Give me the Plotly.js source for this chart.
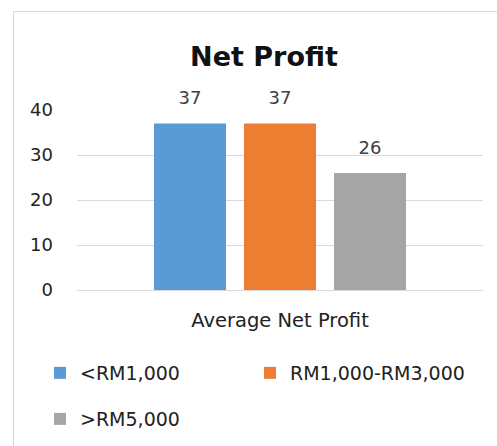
<!DOCTYPE html>
<html>
<head>
<meta charset="utf-8">
<script src="https://cdn.plot.ly/plotly-3.0.1.min.js"></script>
<style>
  html, body { margin: 0; padding: 0; background: #ffffff; }
  #frame { position: absolute; left: 13px; top: 11px; width: 600px; height: 600px; border: 1px solid #d9d9d9; box-sizing: border-box; }
  #chart { position: absolute; left: 0; top: 0; width: 497px; height: 446px; }
</style>
</head>
<body>
<div id="frame"></div>
<div id="chart"></div>
<script>
const categories = ["Average Net Profit"];
const seriesNames = ["<RM1,000", "RM1,000-RM3,000", ">RM5,000"];
const seriesValues = [[37], [37], [26]];
const seriesColors = ["#5b9bd5", "#ed7d31", "#a5a5a5"];
const yTicks = [0, 10, 20, 30, 40];
const legendOf = ["legend", "legend2", "legend3"];

const FONT = "DejaVu Sans, Liberation Sans, sans-serif";

const bars = seriesNames.map((name, i) => ({
  type: "bar",
  name: name,
  x: categories,
  y: seriesValues[i],
  marker: { color: seriesColors[i] },
  legend: legendOf[i],
  hoverinfo: "skip"
}));

const labels = seriesNames.map((name, i) => ({
  type: "scatter",
  mode: "markers+text",
  x: categories,
  y: seriesValues[i],
  text: seriesValues[i].map(v => String(v)),
  textposition: "top center",
  textfont: { family: FONT, size: 18, color: "#404040" },
  marker: { size: 22, color: "rgba(0,0,0,0)" },
  showlegend: false,
  hoverinfo: "skip",
  cliponaxis: false
}));

const legendBase = {
  orientation: "h",
  xref: "container", yref: "container",
  xanchor: "left", yanchor: "top",
  font: { family: FONT, size: 19, color: "#222222" },
  bgcolor: "rgba(0,0,0,0)",
  borderwidth: 0
};

const layout = {
  width: 497,
  height: 446,
  paper_bgcolor: "rgba(0,0,0,0)",
  plot_bgcolor: "rgba(0,0,0,0)",
  margin: { l: 77, r: 14, t: 110, b: 156 },
  font: { family: FONT, color: "#222222" },
  title: {
    text: "<b>Net Profit</b>",
    font: { family: FONT, size: 27, color: "#111111" },
    x: 264 / 497, xref: "container", xanchor: "center",
    y: 1 - 57 / 446, yref: "container", yanchor: "middle"
  },
  barmode: "group",
  bargap: 0.335,
  bargroupgap: 0.2,
  scattermode: "group",
  scattergap: 0.335,
  xaxis: {
    type: "category",
    range: [-0.5, 0.5],
    showgrid: false,
    showline: true,
    linecolor: "#d9d9d9",
    linewidth: 1,
    ticks: "",
    tickfont: { family: FONT, size: 19.5, color: "#222222" },
    ticklabelstandoff: 13,
    fixedrange: true
  },
  yaxis: {
    range: [0, 40],
    tickvals: yTicks,
    ticktext: yTicks.map(String),
    showgrid: true,
    gridcolor: "#d9d9d9",
    gridwidth: 1,
    zeroline: false,
    showline: false,
    ticks: "",
    tickfont: { family: FONT, size: 18, color: "#222222" },
    ticklabelstandoff: 23,
    fixedrange: true
  },
  legend: Object.assign({}, legendBase, { x: 40 / 497, y: 1 - 354 / 446 }),
  legend2: Object.assign({}, legendBase, { x: 250 / 497, y: 1 - 354 / 446 }),
  legend3: Object.assign({}, legendBase, { x: 40 / 497, y: 1 - 400 / 446 }),
  showlegend: true
};

Plotly.newPlot("chart", bars.concat(labels), layout, { displayModeBar: false, staticPlot: true });
</script>
</body>
</html>
